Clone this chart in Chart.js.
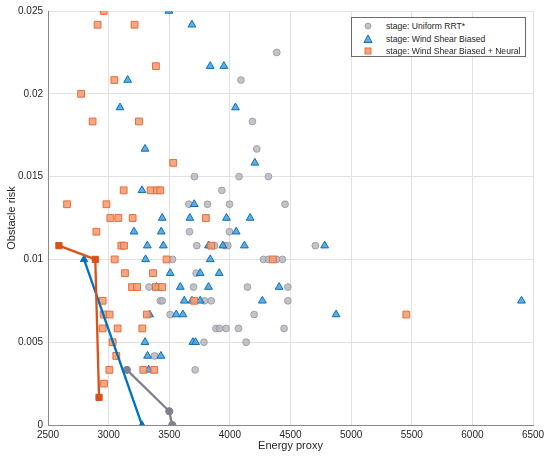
<!DOCTYPE html>
<html>
<head>
<meta charset="utf-8">
<script src="https://cdn.jsdelivr.net/npm/chart.js@4.4.1/dist/chart.umd.min.js"></script>
<style>
  body { margin: 0; background: #fff; font-family: "Liberation Sans", Arial, sans-serif; }
  #wrap { position: relative; width: 550px; height: 462px; }
  #legend {
    position: absolute; left: 351px; top: 17px; width: 175px; height: 40px;
    box-sizing: border-box; border: 1px solid #6a6a6a; background: #fff;
    font-size: 8.6px; color: #262626; padding-top: 2px;
  }
  #legend .row { position: relative; height: 12.5px; line-height: 12.5px; }
  #legend svg { position: absolute; left: 11px; top: 1px; }
  #legend span { position: absolute; left: 34px; white-space: nowrap; }
</style>
</head>
<body>
<div id="wrap">
  <canvas id="chart" width="550" height="462"></canvas>
  <div id="legend"></div>
</div>
<script>
// Uniform RRT* samples
const uniformX = [4387, 4091, 4186, 4222, 3708, 4076, 4318, 3934, 3662, 3816, 3997, 4455,
  3667, 3997, 3727, 3873, 3960, 3983, 4705, 3527, 4277, 4318, 4385, 4433, 3722,
  3333, 3700, 4145, 4478, 3426, 3442, 3791, 3846, 4478, 3508, 4200,
  3885, 3914, 3969, 4071, 4447, 3786, 4134, 3379, 3714];
const uniformY = [0.0225, 0.02083, 0.01833, 0.01667, 0.015, 0.015, 0.015, 0.01417,
  0.01333, 0.01333, 0.01333, 0.01333, 0.01167, 0.01167,
  0.01083, 0.01083, 0.01083, 0.01083, 0.01083, 0.01, 0.01, 0.01, 0.01, 0.01, 0.00917,
  0.00833, 0.00833, 0.00833, 0.00833, 0.0075, 0.0075, 0.0075, 0.0075, 0.0075,
  0.00667, 0.00667, 0.00583, 0.00583, 0.00583, 0.00583, 0.00583,
  0.005, 0.005, 0.00417, 0.00333];

// Wind Shear Biased samples
const windX = [3497, 3687, 3838, 3951, 3157, 3094, 4046, 3300, 4206, 3275, 3706,
  3442, 3670, 3972, 4167, 3209, 3434, 4052, 3319, 3451, 3824, 3942, 4120, 4782,
  3305, 3838, 3508, 3755, 3912, 3395, 3591, 3824, 4406,
  3624, 3687, 3755, 4268, 6405, 3338, 3558, 3613, 4876,
  3300, 3695, 3717, 3321, 3431, 3330];
const windY = [0.025, 0.02417, 0.02167, 0.02167, 0.02083, 0.01917, 0.01917, 0.01667, 0.01583, 0.01417, 0.01333,
  0.0125, 0.0125, 0.0125, 0.0125, 0.01167, 0.01167, 0.01167,
  0.01083, 0.01083, 0.01083, 0.01083, 0.01083, 0.01083,
  0.01, 0.01, 0.00917, 0.00917, 0.00917, 0.00833, 0.00833, 0.00833, 0.00833,
  0.0075, 0.0075, 0.0075, 0.0075, 0.0075, 0.00667, 0.00667, 0.00667, 0.00667,
  0.005, 0.005, 0.005, 0.00417, 0.00417, 0.00333];

// Wind Shear Biased + Neural samples
const neuralX = [2959, 2909, 3214, 3390, 3047, 2773, 2868, 3250, 3533,
  3124, 3346, 3399, 3426, 2657, 2982, 3014, 3080, 3198, 3802, 2899,
  3105, 3127, 3846, 3050, 3478, 4354, 3135, 3366, 3193, 3234, 3390, 3442,
  2951, 3706, 2959, 3008, 3316, 5455, 2951, 3074, 3278,
  3033, 3063, 3006, 3286, 3376, 2962];
const neuralY = [0.025, 0.02417, 0.02417, 0.02167, 0.02083, 0.02, 0.01833, 0.01833, 0.01583,
  0.01417, 0.01417, 0.01417, 0.01417, 0.01333, 0.01333, 0.0125, 0.0125, 0.0125, 0.0125, 0.01167,
  0.01083, 0.01083, 0.01083, 0.01, 0.01, 0.01, 0.00917, 0.00917, 0.00833, 0.00833, 0.00833, 0.00833,
  0.0075, 0.0075, 0.00667, 0.00667, 0.00667, 0.00667, 0.00583, 0.00583, 0.00583,
  0.005, 0.00417, 0.00333, 0.00333, 0.00333, 0.0025];

// Pareto fronts
const uniformFrontX = [3151, 3500, 3525];
const uniformFrontY = [0.00333, 0.00083, 0];
const windFrontX = [2797, 3275];
const windFrontY = [0.01, 0];
const neuralFrontX = [2590, 2890, 2921];
const neuralFrontY = [0.01083, 0.01, 0.00167];

const xTicks = [2500, 3000, 3500, 4000, 4500, 5000, 5500, 6000, 6500];
const yTicks = [0, 0.005, 0.01, 0.015, 0.02, 0.025];

const pts = (xs, ys) => xs.map((x, i) => ({x, y: ys[i]}));
const FONT = '"Liberation Sans", Arial, sans-serif';

const scatterSets = [
  { label: 'stage: Uniform RRT*', data: pts(uniformX, uniformY), pointStyle: 'circle', pointRadius: 3.4,
    backgroundColor: 'rgba(180,180,188,0.8)', borderColor: 'rgba(155,155,165,0.9)', order: 6 },
  { label: 'stage: Wind Shear Biased', data: pts(windX, windY), pointStyle: 'triangle', pointRadius: 4.5,
    backgroundColor: 'rgba(80,165,225,0.9)', borderColor: '#0a6fb8', order: 5 },
  { label: 'stage: Wind Shear Biased + Neural', data: pts(neuralX, neuralY), pointStyle: 'rect', pointRadius: 4.8,
    backgroundColor: 'rgba(244,158,118,0.9)', borderColor: 'rgba(228,105,55,0.95)', order: 4 }
];
scatterSets.forEach(d => { d.showLine = false; d.pointBorderWidth = 1; d.pointHoverRadius = d.pointRadius; });

const frontSets = [
  { data: pts(uniformFrontX, uniformFrontY), color: '#80808e', style: 'circle', r: 3.6, order: 2 },
  { data: pts(windFrontX, windFrontY), color: '#0072BD', style: 'triangle', r: 4.2, order: 1 },
  { data: pts(neuralFrontX, neuralFrontY), color: '#D95319', style: 'rect', r: 4.4, order: 0 }
].map(f => ({
  label: '', data: f.data, showLine: true, borderColor: f.color, borderWidth: 2.3,
  backgroundColor: f.color, pointBackgroundColor: f.color, pointBorderColor: f.color,
  pointBorderWidth: 1, pointStyle: f.style, pointRadius: f.r, order: f.order, tension: 0
}));

new Chart(document.getElementById('chart'), {
  type: 'scatter',
  data: { datasets: [...scatterSets, ...frontSets] },
  options: {
    responsive: false,
    animation: false,
    layout: { padding: { top: 10, right: 17, left: 0, bottom: 0 } },
    plugins: { legend: { display: false }, tooltip: { enabled: false } },
    scales: {
      x: {
        type: 'linear', min: 2500, max: 6500,
        afterBuildTicks: s => { s.ticks = xTicks.map(v => ({value: v})); },
        afterFit: s => { s.height = 37; },
        ticks: { font: { family: FONT, size: 10 }, color: '#262626', padding: 4, maxRotation: 0, callback: v => String(v) },
        grid: { color: '#e2e2e2', drawTicks: false },
        border: { color: '#8a8a8a' },
        title: { display: true, text: 'Energy proxy', font: { family: FONT, size: 11 }, color: '#262626', padding: { bottom: 9 } }
      },
      y: {
        min: 0, max: 0.025,
        afterBuildTicks: s => { s.ticks = yTicks.map(v => ({value: v})); },
        afterFit: s => { s.width = 48; },
        ticks: { font: { family: FONT, size: 10 }, color: '#262626', padding: 5, callback: v => String(v) },
        grid: { color: '#e2e2e2', drawTicks: false },
        border: { color: '#8a8a8a' },
        title: { display: true, text: 'Obstacle risk', font: { family: FONT, size: 11 }, color: '#262626', padding: { top: 5 } }
      }
    }
  }
});

// legend box
const shapes = {
  circle: (f, s) => `<circle cx="5" cy="5" r="3" fill="${f}" stroke="${s}"/>`,
  triangle: (f, s) => `<polygon points="5,1 9,8.5 1,8.5" fill="${f}" stroke="${s}"/>`,
  rect: (f, s) => `<rect x="2" y="2" width="6" height="6" fill="${f}" stroke="${s}"/>`
};
document.getElementById('legend').innerHTML = scatterSets.map(d =>
  `<div class="row"><svg width="10" height="10">${shapes[d.pointStyle](d.backgroundColor, d.borderColor)}</svg><span>${d.label}</span></div>`
).join('');
</script>
</body>
</html>
